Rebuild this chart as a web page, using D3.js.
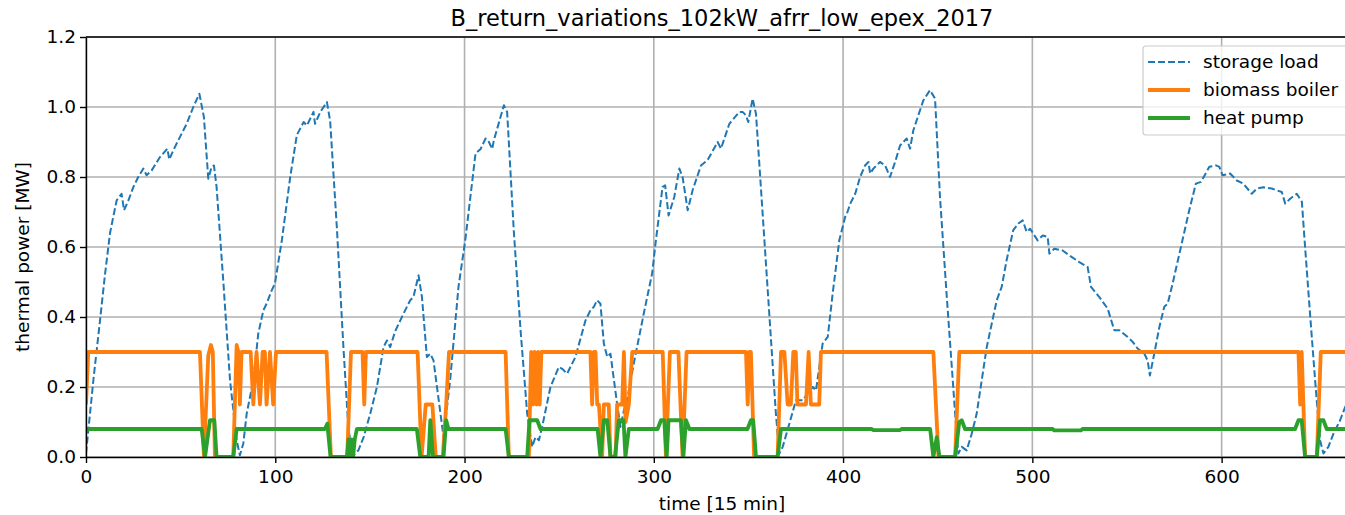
<!DOCTYPE html>
<html>
<head>
<meta charset="utf-8">
<script src="https://cdn.jsdelivr.net/npm/d3@7"></script>
<style>
  body { margin: 0; background: #fff; }
  svg { display: block; font-family: "DejaVu Sans", sans-serif; }
</style>
</head>
<body>
<svg id="chart" width="1345" height="515"></svg>
<script>
// chart values
const chartTitle = "B_return_variations_102kW_afrr_low_epex_2017";
const xTicks = [0, 100, 200, 300, 400, 500, 600];
const yTicks = [0, 0.2, 0.4, 0.6, 0.8, 1.0, 1.2];
const seriesNames = ["storage load", "biomass boiler", "heat pump"];

// [time step, MW]
const storageLoad = [
  [0,0.01],[3.9,0.22],[7.4,0.39],[10,0.52],[12.7,0.64],[14.4,0.686],[16.2,0.733],[18.8,0.752],[20.1,0.705],
  [22.4,0.733],[25,0.771],[27.6,0.8],[30.3,0.824],[32,0.805],[34.7,0.819],[39.1,0.857],[43,0.881],[44,0.85],
  [46.1,0.876],[49.6,0.914],[53.2,0.952],[56.7,1.0],[59.9,1.038],[62.3,0.971],[64.6,0.795],[66.4,0.829],
  [67.6,0.833],[69,0.771],[72.5,0.505],[76.1,0.219],[79.6,0.048],[81.3,0.005],[83.1,0.038],[84.9,0.124],
  [88.4,0.219],[91,0.352],[93.7,0.419],[95.4,0.438],[98.1,0.476],[99.8,0.495],[103.5,0.62],[107.9,0.8],
  [111.4,0.92],[115,0.957],[116.7,0.947],[120.2,0.986],[121,0.952],[123.8,0.986],[127.3,1.014],[129,0.96],
  [132.6,0.65],[136,0.314],[138.7,0.076],[141.4,0.005],[144,0.02],[146.7,0.057],[150.2,0.124],[153.7,0.2],
  [157.2,0.314],[159,0.333],[160.7,0.314],[163.4,0.36],[167.8,0.41],[171.3,0.448],[173,0.457],[175.7,0.519],
  [177.5,0.457],[180.1,0.286],[181.9,0.295],[183.6,0.276],[188.9,0.057],[192.4,0.22],[196.8,0.486],[200.4,0.62],
  [205.8,0.867],[208.5,0.88],[211.1,0.91],[212.9,0.9],[214.6,0.88],[215.5,0.905],[220.8,1.005],[222.5,0.986],
  [226,0.648],[229.6,0.362],[233.1,0.124],[235.7,0.029],[237.5,0.057],[239.3,0.048],[241,0.086],[245.4,0.2],
  [249.8,0.257],[251.6,0.252],[254.2,0.238],[258.6,0.286],[263.9,0.39],[266.5,0.419],[268.3,0.429],[270,0.448],
  [271.8,0.438],[273.6,0.324],[275.4,0.286],[277.1,0.295],[280.6,0.152],[282.4,0.086],[284.2,0.133],[285.9,0.162],
  [289.4,0.267],[294.7,0.41],[299.1,0.524],[301.1,0.619],[304.6,0.771],[306,0.776],[307.8,0.69],[310.8,0.743],
  [313.5,0.824],[315.2,0.8],[317.9,0.705],[320.5,0.762],[324.9,0.833],[328.4,0.848],[333.7,0.9],[335.5,0.881],
  [339.9,0.952],[345.2,0.986],[346.9,0.986],[348.7,0.976],[349.9,0.957],[350.4,0.971],[352.2,1.024],[354,0.98],
  [357.5,0.695],[361,0.41],[364.5,0.124],[366.3,0.01],[368.1,0.029],[371.6,0.095],[375.1,0.162],[378.6,0.162],
  [383.9,0.2],[385.7,0.19],[389.2,0.324],[391.9,0.343],[394.5,0.467],[398,0.619],[401.1,0.686],[402,0.695],
  [403.8,0.724],[406.4,0.752],[409,0.8],[411.6,0.833],[413.4,0.843],[414.3,0.81],[416,0.824],[419.5,0.843],
  [422.2,0.833],[424.8,0.8],[427.5,0.843],[430.1,0.89],[433.6,0.91],[435.4,0.881],[437.1,0.933],[442.4,1.019],
  [445.9,1.048],[448.6,1.024],[451.2,0.743],[454.8,0.457],[459.2,0.124],[460.9,0.01],[462.7,0.029],[465.3,0.019],
  [468,0.067],[470.6,0.124],[475.9,0.314],[481.2,0.448],[483.8,0.486],[486.4,0.562],[489.9,0.648],[492.6,0.667],
  [494.9,0.676],[497,0.643],[498.8,0.652],[502.8,0.619],[505.5,0.633],[508.1,0.629],[509,0.581],[511.6,0.595],
  [516,0.59],[519.5,0.576],[524.8,0.557],[529.2,0.543],[531,0.486],[535.4,0.457],[539.8,0.424],[543.3,0.362],
  [546,0.362],[550.4,0.343],[553,0.329],[555.6,0.31],[559.2,0.295],[560.9,0.276],[562.1,0.233],[564.4,0.295],
  [567.1,0.371],[569.7,0.429],[571.5,0.438],[574.1,0.495],[578.5,0.6],[582.9,0.705],[586.4,0.781],[589.1,0.786],
  [593.5,0.829],[597,0.833],[598.8,0.829],[600.5,0.805],[604.5,0.81],[608,0.79],[611.5,0.781],[615.9,0.752],
  [618.6,0.767],[622.1,0.771],[626.5,0.767],[631.8,0.757],[633.6,0.724],[636.2,0.738],[639.7,0.752],[642.4,0.729],
  [644.1,0.6],[646.7,0.41],[649.4,0.219],[652,0.048],[653.8,0.01],[656.4,0.029],[659.1,0.067],[662.6,0.105],
  [665.3,0.143],[671,0.2]
];

const biomassBoiler = [
  [0,0.15],[1.2,0.3],[60.2,0.3],[62.3,0],[64.6,0.29],[66,0.32],[67,0.3],[68.1,0],[77.8,0],[79.6,0.32],
  [80.5,0.3],[81.3,0.15],[82.2,0.3],[87,0.3],[88.4,0.15],[90.1,0.3],[91.9,0.15],[93.3,0.3],[94.5,0.3],
  [95.4,0.15],[97.2,0.3],[98.9,0.15],[100.4,0.3],[127.1,0.3],[129.4,0],[138,0],[140,0.3],[146.1,0.3],
  [147,0.15],[147.9,0.3],[175.2,0.3],[177.3,0],[179.5,0.15],[183,0.15],[184.8,0],[188.5,0],[190.3,0.15],
  [191.8,0.3],[221.7,0.3],[223.4,0],[234,0],[235.2,0.3],[236.2,0.15],[237,0.3],[238,0.15],[238.8,0.3],
  [239.7,0.15],[240.6,0.3],[266.5,0.3],[267.4,0.15],[268.3,0.3],[269.2,0.3],[270.1,0.15],[271,0.15],
  [272.7,0],[273.6,0.15],[276.2,0.15],[277.1,0],[279.8,0],[280.6,0.15],[283.3,0.15],[284.2,0.3],[285.1,0.1],
  [286.8,0.15],[288.6,0.3],[304.7,0.3],[306.4,0],[308.5,0.3],[313,0.3],[315.2,0],[317.3,0.3],[348.7,0.3],
  [349.6,0.15],[350.4,0.3],[351.3,0.3],[353,0],[365.4,0],[367.2,0.3],[369,0.3],[370.7,0.15],[372.4,0.15],
  [373.7,0.3],[375,0.3],[375.9,0.15],[380.4,0.15],[381.8,0.3],[383,0.15],[387.4,0.15],[388.3,0.3],
  [447.7,0.3],[450.4,0],[459.2,0],[461.4,0.3],[640.6,0.3],[641.5,0.15],[642.3,0.3],[644.1,0],[650.3,0],
  [652.4,0.3],[671,0.3]
];

const heatPump = [
  [0,0.08],[61.1,0.08],[62.9,0],[65.5,0.105],[67.8,0.105],[69,0],[77.8,0],[79.6,0.08],[126.2,0.08],
  [127.5,0.095],[129.2,0],[137.9,0],[138.7,0.05],[139.5,0],[140.3,0.05],[141.1,0],[142,0.05],[143.1,0.08],
  [174.8,0.08],[176.6,0],[181,0],[181.9,0.105],[183.3,0],[188.9,0],[190.3,0.105],[191.5,0.08],[221.7,0.08],
  [223.4,0],[233.1,0],[234.3,0.105],[238.4,0.105],[240.1,0.08],[270.3,0.08],[271.8,0],[273.6,0.105],
  [275.4,0.105],[277.1,0],[279.5,0],[281.5,0.105],[284,0.105],[285,0],[286.8,0.08],[302,0.08],[303.8,0.105],
  [305.5,0.105],[306.8,0],[307.8,0.105],[314.3,0.105],[315.6,0],[317,0.105],[318.8,0.08],[349.5,0.08],
  [351.3,0.105],[352.5,0.105],[354,0],[365.4,0],[367.2,0.08],[415,0.08],[416,0.077],[430,0.077],[431,0.08],
  [446,0.08],[447.7,0],[449.5,0.057],[450.9,0],[459.2,0],[461.4,0.1],[462.7,0.105],[464.4,0.08],[510.7,0.08],
  [511.5,0.076],[525.7,0.076],[526.5,0.08],[638.8,0.08],[640.6,0.105],[642.3,0.105],[644.1,0],[650.3,0],
  [652,0.105],[653.8,0.105],[655.5,0.08],[671,0.08]
];

const colors = ["#1f77b4", "#ff7f0e", "#2ca02c"];

const svg = d3.select("#chart");
const plot = { left: 86, right: 1356, top: 37, bottom: 457 };
const fontSize = "18.5px";

svg.append("rect").attr("width", 1345).attr("height", 515).attr("fill", "#fff");

const x = d3.scaleLinear().domain([0, 671]).range([plot.left, plot.right]);
const y = d3.scaleLinear().domain([0, 1.2]).range([plot.bottom, plot.top]);

svg.append("defs").append("clipPath").attr("id", "clip")
  .append("rect")
  .attr("x", plot.left).attr("y", plot.top)
  .attr("width", plot.right - plot.left).attr("height", plot.bottom - plot.top);

// grid
const grid = svg.append("g").attr("stroke", "#b0b0b0").attr("stroke-width", 1.6);
grid.selectAll(".gx").data(xTicks).enter().append("line")
  .attr("x1", d => x(d)).attr("x2", d => x(d))
  .attr("y1", plot.top).attr("y2", plot.bottom);
grid.selectAll(".gy").data(yTicks).enter().append("line")
  .attr("x1", plot.left).attr("x2", plot.right)
  .attr("y1", d => y(d)).attr("y2", d => y(d));

// lines
const line = d3.line().x(d => x(d[0])).y(d => y(d[1]));
const lines = svg.append("g").attr("clip-path", "url(#clip)").attr("fill", "none")
  .attr("stroke-linejoin", "round");

lines.append("path").datum(storageLoad)
  .attr("d", line).attr("stroke", colors[0]).attr("stroke-width", 2)
  .attr("stroke-dasharray", "7,3");
lines.append("path").datum(biomassBoiler)
  .attr("d", line).attr("stroke", colors[1]).attr("stroke-width", 3.8);
lines.append("path").datum(heatPump)
  .attr("d", line).attr("stroke", colors[2]).attr("stroke-width", 3.8);

// axes
const xAxis = svg.append("g")
  .attr("transform", `translate(0,${plot.bottom})`)
  .call(d3.axisBottom(x).tickValues(xTicks).tickFormat(d3.format("d")).tickSize(6).tickSizeOuter(0));
const yAxis = svg.append("g")
  .attr("transform", `translate(${plot.left},0)`)
  .call(d3.axisLeft(y).tickValues(yTicks).tickFormat(d3.format(".1f")).tickSize(6).tickSizeOuter(0));

[xAxis, yAxis].forEach(a => {
  a.select(".domain").attr("stroke", "#000").attr("stroke-width", 1.4);
  a.selectAll(".tick line").attr("stroke", "#000").attr("stroke-width", 1.4);
  a.selectAll(".tick text").attr("fill", "#000").style("font-size", fontSize)
    .style("font-family", "DejaVu Sans, sans-serif");
});
xAxis.selectAll(".tick text").attr("dy", "0.9em").attr("y", 9);
yAxis.selectAll(".tick text").attr("x", -10);

// top spine
svg.append("line").attr("x1", plot.left).attr("x2", plot.right)
  .attr("y1", plot.top).attr("y2", plot.top)
  .attr("stroke", "#000").attr("stroke-width", 1.4);

// labels
svg.append("text").attr("x", 722).attr("y", 26).attr("text-anchor", "middle")
  .style("font-size", "22.5px").attr("fill", "#000").text(chartTitle);
svg.append("text").attr("x", 722).attr("y", 510).attr("text-anchor", "middle")
  .style("font-size", fontSize).attr("fill", "#000").text("time [15 min]");
svg.append("text").attr("transform", "translate(29,257) rotate(-90)").attr("text-anchor", "middle")
  .style("font-size", fontSize).attr("fill", "#000").text("thermal power [MW]");

// legend
const legend = svg.append("g");
legend.append("rect").attr("x", 1143).attr("y", 46).attr("width", 210).attr("height", 89)
  .attr("rx", 3).attr("fill", "#fff").attr("fill-opacity", 0.8)
  .attr("stroke", "#cccccc").attr("stroke-width", 1.2);
seriesNames.forEach((name, i) => {
  const ly = 62 + i * 28;
  legend.append("line").attr("x1", 1148).attr("x2", 1190).attr("y1", ly).attr("y2", ly)
    .attr("stroke", colors[i]).attr("stroke-width", i === 0 ? 2 : 3.8)
    .attr("stroke-dasharray", i === 0 ? "7,3" : null);
  legend.append("text").attr("x", 1203).attr("y", ly).attr("dy", "0.35em")
    .style("font-size", fontSize).attr("fill", "#000").text(name);
});
</script>
</body>
</html>
